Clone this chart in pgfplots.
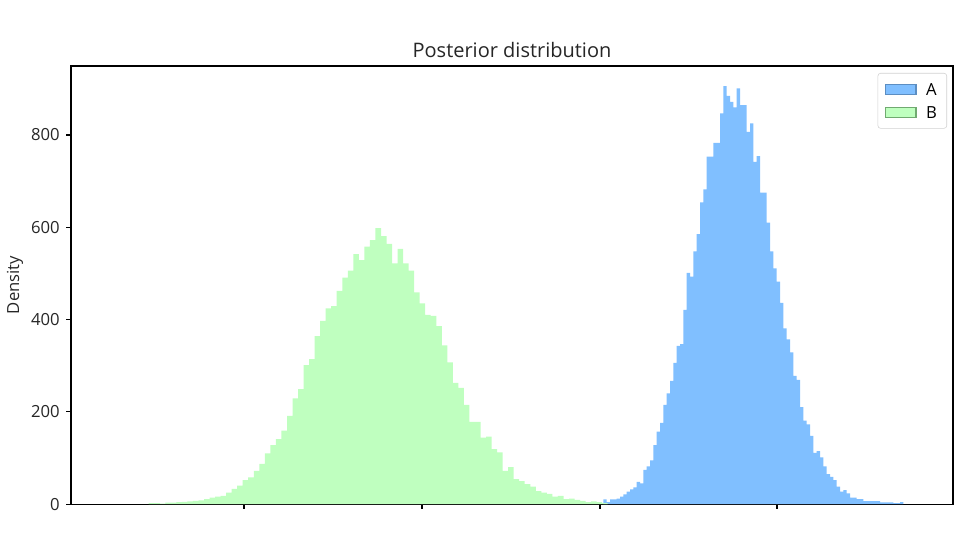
\documentclass[border=0pt]{standalone}
\usepackage{fontspec}
\setmainfont{Open Sans}
\usepackage{pgfplots}
\pgfplotsset{compat=1.18}
\definecolor{colA}{HTML}{80BFFF}
\definecolor{edgeA}{HTML}{5C8EC2}
\definecolor{colB}{HTML}{BFFFBF}
\definecolor{edgeB}{HTML}{70AA70}
\begin{document}
\begin{tikzpicture}
\begin{axis}[
 name=ax,
 scale only axis, width=635pt, height=315.4pt,
 xmin=71, xmax=953, ymin=0, ymax=949.6,
 xtick={244,422,600,777}, xticklabels={},
 ytick={0,200,400,600,800},
 tick align=outside, tick pos=left,
 major tick length=3.5pt,
 every tick/.style={black, line width=0.8pt},
 axis line style={line width=0.8pt, black},
 /pgf/number format/assume math mode=true,
 ticklabel style={font=\fontsize{12}{14}\selectfont, text=black!85},
 yticklabel style={inner sep=0pt, xshift=-4.5pt},
 title={Posterior distribution},
 title style={at={(0.5,1)}, anchor=base, yshift=0.2pt, font=\fontsize{14.4}{17}\selectfont, text=black!85},
 ylabel={Density},
 ylabel style={at={(axis description cs:-0.0635,0.5)}, anchor=center, font=\fontsize{12}{14}\selectfont, text=black!85},
 legend style={at={(rel axis cs:1,1)}, anchor=north east, xshift=-4.3pt, yshift=-5pt,
   draw=black!18, rounded corners=2pt, fill=white, font=\fontsize{12}{14}\selectfont,
   inner xsep=5pt, inner ysep=5.5pt, row sep=4.7pt,
   nodes={text height=9pt, text depth=0pt, inner ysep=1.5pt, sharp corners},
   /tikz/every odd column/.append style={column sep=5pt}},
 legend cell align=left,
]
\addplot[const plot, fill=colA, draw=none,
  legend image code/.code={\draw[sharp corners, fill=colA, draw=edgeA, line width=0.8pt] (0pt,-3.7pt) rectangle (22pt,3.7pt);}]
 table {
603.3 10
606.7 4
610.0 10
613.3 10
616.7 12
620.0 16
623.3 21
626.7 27
630.0 32
633.3 36
636.7 48
640.0 45
643.3 74
646.7 82
650.0 95
653.3 128
656.7 157
660.0 176
663.3 215
666.7 240
670.0 267
673.3 306
676.7 343
680.0 347
683.3 421
686.7 501
690.0 493
693.3 548
696.7 585
700.0 654
703.3 682
706.7 753
710.0 753
713.3 783
716.7 783
720.0 847
723.3 906
726.7 885
730.0 872
733.3 860
736.7 901
740.0 865
743.3 865
746.7 807
750.0 825
753.3 742
756.7 754
760.0 675
763.3 675
766.7 610
770.0 548
773.3 511
776.7 482
780.0 436
783.3 381
786.7 357
790.0 329
793.3 278
796.7 269
800.0 210
803.3 181
806.7 173
810.0 148
813.3 111
816.7 115
820.0 101
823.3 82
826.7 65
830.0 59
833.3 52
836.7 38
840.0 27
843.3 30
846.7 23
850.0 14
853.3 14
856.7 11
860.0 11
863.3 6.5
866.7 6.5
870.0 6.5
873.3 6.5
876.7 6.5
880.0 3.6
883.3 3.6
886.7 3.6
890.0 3.6
893.3 2
896.7 2
900.0 4.3
903.3 0
} \closedcycle;
\addlegendentry{A}
\addplot[const plot, fill=colB, draw=none,
  legend image code/.code={\draw[sharp corners, fill=colB, draw=edgeB, line width=0.8pt] (0pt,-3.7pt) rectangle (22pt,3.7pt);}]
 table {
148.7 2
154.2 2
159.8 1
165.3 3
170.8 3
176.3 4
181.9 5
187.4 6
192.9 7
198.5 8
204.0 11
209.5 14
215.1 16
220.6 18
226.1 25
231.7 33
237.2 40
242.7 52
248.2 58
253.8 72
259.3 87
264.8 110
270.4 128
275.9 141
281.4 159
287.0 191
292.5 229
298.0 249
303.5 301
309.1 314
314.6 364
320.1 397
325.7 424
331.2 429
336.7 462
342.3 491
347.8 506
353.3 542
358.8 529
364.4 558
369.9 572
375.4 598
381.0 581
386.5 564
392.0 522
397.6 553
403.1 522
408.6 506
414.1 459
419.7 435
425.2 410
430.7 408
436.3 386
441.8 344
447.3 307
452.9 263
458.4 252
463.9 215
469.4 178
475.0 178
480.5 144
486.0 146
491.6 119
497.1 112
502.6 72
508.2 80
513.7 54
519.2 50
524.7 43
530.3 38
535.8 28
541.3 25
546.9 22
552.4 16
557.9 18
563.5 11
569.0 12
574.5 9
580.0 7
585.6 4
591.1 6
596.6 4
602.2 2
607.7 0
} \closedcycle;
\addlegendentry{B}
\end{axis}
\path ([xshift=-51.12pt,yshift=-25.92pt]ax.south west) rectangle ([xshift=5.04pt,yshift=47.52pt]ax.north east);
\end{tikzpicture}
\end{document}
